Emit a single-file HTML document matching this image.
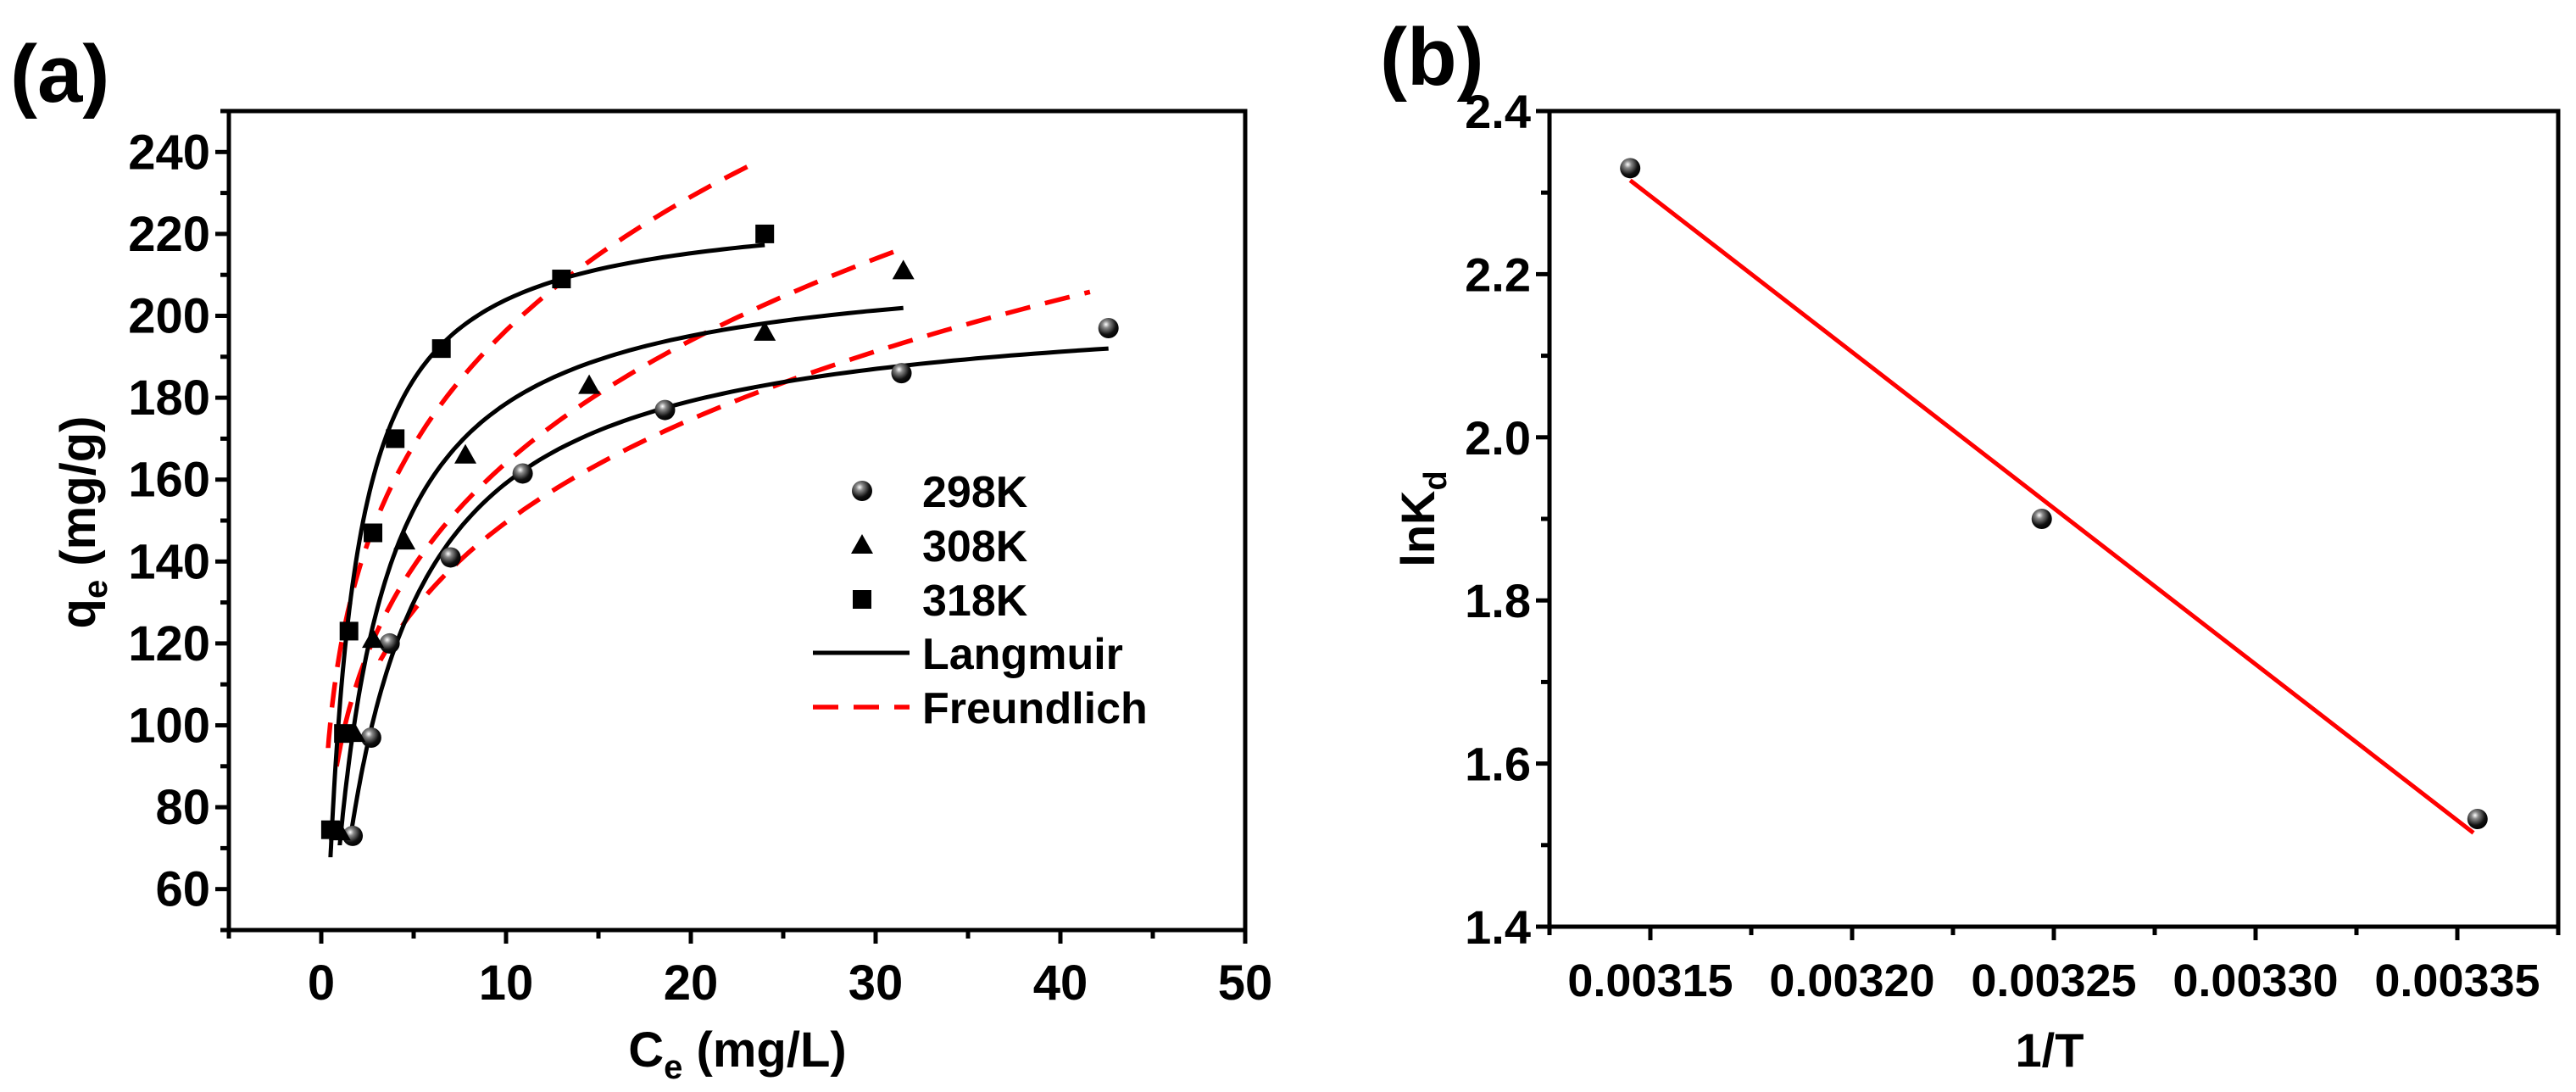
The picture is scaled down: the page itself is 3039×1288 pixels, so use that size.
<!DOCTYPE html>
<html><head><meta charset="utf-8"><style>
html,body{margin:0;padding:0;background:#fff;}
svg{display:block;font-family:"Liberation Sans",Arial,sans-serif;font-weight:bold;}
</style></head><body>
<svg id="fig" width="3039" height="1288" viewBox="0 0 3039 1288" xmlns="http://www.w3.org/2000/svg">
<defs>
<radialGradient id="sph" cx="0.38" cy="0.32" r="0.7">
<stop offset="0" stop-color="#fff"/><stop offset="0.25" stop-color="#888"/><stop offset="0.7" stop-color="#111"/><stop offset="1" stop-color="#000"/>
</radialGradient>
</defs>
<text x="12" y="120" font-size="96">(a)</text>
<text x="1628" y="100" font-size="96">(b)</text>
<g id="pa"></g>
<g id="pb"></g>
</svg>
<script>
// ---- Panel (a) data ----
const xTicksA = [0,10,20,30,40,50];
const yTicksA = [60,80,100,120,140,160,180,200,220,240];
const c298 = [1.7,2.7,3.7,7.0,10.9,18.6,31.4,42.6];
const q298 = [73,97,120,141,161.5,177,186,197];
const c308 = [1.0,1.8,2.8,4.5,7.8,14.5,24.0,31.5];
const q308 = [74,98,121,145,166,183,196,211];
const c318 = [0.5,1.2,1.5,2.8,4.0,6.5,13.0,24.0];
const q318 = [74.5,98,123,147,170,192,209,220];
// Langmuir fit params [298,308,318]
const langQm = [205,215,228];
const langK = [0.347,0.49,0.846];
const langRange = [[1.6,42.6],[1.0,31.5],[0.5,24.0]];
// Freundlich fit params
const freKf = [89.3,94.1,117.8];
const freN = [0.224,0.2415,0.222];
const freRange = [[3.2,41.6],[0.83,31.5],[0.37,23.1]];
// ---- Panel (b) data ----
const xTicksB = [0.00315,0.00320,0.00325,0.00330,0.00335];
const xTickLabelsB = ["0.00315","0.00320","0.00325","0.00330","0.00335"];
const yTicksB = [1.4,1.6,1.8,2.0,2.2,2.4];
const invT = [0.003145,0.003247,0.003355];
const lnKd = [2.33,1.90,1.532];
const fitX = [0.003145,0.003354];
const fitY = [2.315,1.515];

const NS="http://www.w3.org/2000/svg";
function mk(parent,tag,attrs,text){const e=document.createElementNS(NS,tag);for(const k in attrs)e.setAttribute(k,attrs[k]);if(text!==undefined)e.textContent=text;parent.appendChild(e);return e;}

// Panel A axes
const A={l:270,r:1469,t:131,b:1097,x0:-5,x1:50,y0:50,y1:250};
const ax=v=>A.l+(v-A.x0)/(A.x1-A.x0)*(A.r-A.l);
const ay=v=>A.b-(v-A.y0)/(A.y1-A.y0)*(A.b-A.t);
const pa=document.getElementById('pa');
let fr=mk(pa,'rect',{x:A.l,y:A.t,width:A.r-A.l,height:A.b-A.t,fill:'none',stroke:'#000','stroke-width':5});


for(let v=-5;v<=50;v+=5){const major=v%10===0;const t=mk(pa,'line',{x1:ax(v),x2:ax(v),y1:A.b,y2:A.b+(major?16:10),stroke:'#000','stroke-width':5});

}
xTicksA.forEach(v=>{const t=mk(pa,'text',{x:ax(v),y:A.b+82,'font-size':58,'text-anchor':'middle'},String(v));

});
for(let v=50;v<=250;v+=10){const major=v%20===0;const t=mk(pa,'line',{x1:A.l,x2:A.l-(major?16:10),y1:ay(v),y2:ay(v),stroke:'#000','stroke-width':5});

}
yTicksA.forEach(v=>{const t=mk(pa,'text',{x:A.l-22,y:ay(v)+20,'font-size':58,'text-anchor':'end'},String(v));

});
let xl=mk(pa,'text',{x:870,y:1258,'font-size':58,'text-anchor':'middle'});
xl.innerHTML='C<tspan font-size="40" dy="14">e</tspan><tspan dy="-14"> (mg/L)</tspan>';


let yl=mk(pa,'text',{x:0,y:0,'font-size':58,'text-anchor':'middle',transform:'translate(112,616) rotate(-90)'});
yl.innerHTML='q<tspan font-size="40" dy="14">e</tspan><tspan dy="-14"> (mg/g)</tspan>';



function curve(fn,range){let d='';const n=120;for(let i=0;i<=n;i++){const c=range[0]+(range[1]-range[0])*Math.pow(i/n,2);d+=(i?'L':'M')+ax(c).toFixed(1)+','+ay(fn(c)).toFixed(1);}return d;}
for(let s=0;s<3;s++){
 const p=mk(pa,'path',{d:curve(c=>freKf[s]*Math.pow(c,freN[s]),freRange[s]),fill:'none',stroke:'#f00','stroke-width':5.5,'stroke-dasharray':'30 18'});
 
 
}
for(let s=0;s<3;s++){
 const p=mk(pa,'path',{d:curve(c=>langQm[s]*langK[s]*c/(1+langK[s]*c),langRange[s]),fill:'none',stroke:'#000','stroke-width':5});
 
 
}
function sphere(g,x,y){return mk(g,'circle',{cx:x,cy:y,r:12,fill:'url(#sph)'});}
function tri(g,x,y){return mk(g,'polygon',{points:`${x},${y-13} ${x-13},${y+10} ${x+13},${y+10}`,fill:'#000'});}
function sq(g,x,y){return mk(g,'rect',{x:x-11,y:y-11,width:22,height:22,fill:'#000'});}
c298.forEach((c,i)=>{const m=sphere(pa,ax(c),ay(q298[i]));

});
c308.forEach((c,i)=>{const m=tri(pa,ax(c),ay(q308[i]));

});
c318.forEach((c,i)=>{const m=sq(pa,ax(c),ay(q318[i]));

});
// legend
const lg=mk(pa,'g',{});


const ly=[579,643,707,770,834], lab=['298K','308K','318K','Langmuir','Freundlich'];
sphere(lg,1017,ly[0]);tri(lg,1017,ly[1]);sq(lg,1017,ly[2]);
mk(lg,'line',{x1:959,x2:1073,y1:ly[3],y2:ly[3],stroke:'#000','stroke-width':5});
mk(lg,'line',{x1:959,x2:1073,y1:ly[4],y2:ly[4],stroke:'#f00','stroke-width':5.5,'stroke-dasharray':'30 18'});
lab.forEach((t,i)=>{const e=mk(lg,'text',{x:1088,y:ly[i]+19,'font-size':52},t);

});

// Panel B
const B={l:1828,r:3018,t:131,b:1093,x0:0.003125,x1:0.003375,y0:1.4,y1:2.4};
const bx=v=>B.l+(v-B.x0)/(B.x1-B.x0)*(B.r-B.l);
const by=v=>B.b-(v-B.y0)/(B.y1-B.y0)*(B.b-B.t);
const pb=document.getElementById('pb');
fr=mk(pb,'rect',{x:B.l,y:B.t,width:B.r-B.l,height:B.b-B.t,fill:'none',stroke:'#000','stroke-width':5});


for(let k=0;k<=10;k++){const v=0.003125+k*0.000025;const major=k%2===1;const t=mk(pb,'line',{x1:bx(v),x2:bx(v),y1:B.b,y2:B.b+(major?16:10),stroke:'#000','stroke-width':5});

}
xTicksB.forEach((v,i)=>{const t=mk(pb,'text',{x:bx(v),y:B.b+82,'font-size':54,'text-anchor':'middle'},xTickLabelsB[i]);

});
for(let k=0;k<=10;k++){const v=1.4+k*0.1;const major=k%2===0;const t=mk(pb,'line',{x1:B.l,x2:B.l-(major?16:10),y1:by(v),y2:by(v),stroke:'#000','stroke-width':5});

}
yTicksB.forEach(v=>{const t=mk(pb,'text',{x:B.l-22,y:by(v)+20,'font-size':56,'text-anchor':'end'},v.toFixed(1));

});
let xb=mk(pb,'text',{x:2418,y:1258,'font-size':56,'text-anchor':'middle'},'1/T');


let ybl=mk(pb,'text',{x:0,y:0,'font-size':56,'text-anchor':'middle',transform:'translate(1692,612) rotate(-90)'});
ybl.innerHTML='lnK<tspan font-size="38" dy="14">d</tspan>';


const fl=mk(pb,'line',{x1:bx(fitX[0]),y1:by(fitY[0]),x2:bx(fitX[1]),y2:by(fitY[1]),stroke:'#f00','stroke-width':5});


invT.forEach((v,i)=>{const m=sphere(pb,bx(v),by(lnKd[i]));

});
</script>
</body></html>
